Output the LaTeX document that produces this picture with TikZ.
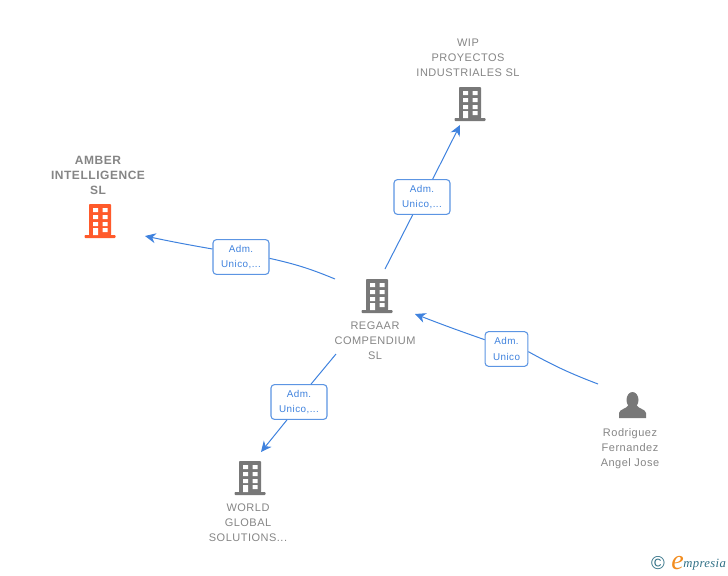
\documentclass[tikz,border=0pt]{standalone}
\usepackage{fontspec}
\setmainfont{Liberation Sans}
\newfontfamily\spacedfont[LetterSpace=4.5]{Liberation Sans}
\newfontfamily\logofont[LetterSpace=3]{Liberation Serif}
\usepackage{xcolor}
\usepackage{tikz}
\usetikzlibrary{arrows.meta}
\definecolor{linkblue}{HTML}{3F82DE}
\definecolor{labelgray}{HTML}{858585}
\definecolor{icongray}{HTML}{787878}
\definecolor{iconorange}{HTML}{FF5A2B}
\definecolor{logoteal}{HTML}{2F6F85}
\definecolor{logoorange}{HTML}{F28C1E}
\tikzset{
  x=.75pt,y=-.75pt,
  namelabel/.style={text=labelgray,font=\spacedfont\fontsize{8.25}{11.25}\selectfont,align=center,inner sep=0pt},
  boldlabel/.style={namelabel,font=\spacedfont\fontsize{9}{11.25}\selectfont\bfseries},
  rolebox/.style={draw=linkblue!85,line width=.8pt,fill=white,rounded corners=2.5pt,text=linkblue,
    font=\spacedfont\fontsize{7.4}{11.6}\selectfont,align=center,inner sep=0pt,minimum height=26pt},
  link/.style={draw=linkblue,line width=.75pt},
  linkarrow/.style={link,-{Stealth[length=8pt,width=7.5pt,inset=2.5pt]}},
  buildingicon/.pic={
    \fill[pic actions,rounded corners=.6pt] (-11,-16) rectangle (11,15.5);
    \fill[pic actions,rounded corners=.6pt] (-15.5,15) rectangle (15.5,18);
    \fill[white] (-7,-12) rectangle (-2,-8) (2.5,-12) rectangle (7.5,-8);
    \fill[white] (-7,-5) rectangle (-2,-1) (2.5,-5) rectangle (7.5,-1);
    \fill[white] (-7,2) rectangle (-2,6) (2.5,2) rectangle (7.5,6);
    \fill[white] (-7,8) rectangle (-2,15) (2.5,8) rectangle (7.5,12);
  },
  personicon/.pic={
    \fill[pic actions] (0,-5) ellipse[x radius=6,y radius=8];
    \fill[pic actions] (-13.5,13) -- (-13.5,8) .. controls (-13,4) and (-6,4) .. (-4,0)
      -- (4,0) .. controls (6,4) and (13,4) .. (13.5,8) -- (13.5,13) -- cycle;
  },
}
\begin{document}
\begin{tikzpicture}
\useasboundingbox (0,0) rectangle (728,575);
% icons
\pic[fill=iconorange] at (100,220) {buildingicon};
\pic[fill=icongray] at (470,103) {buildingicon};
\pic[fill=icongray] at (377,295) {buildingicon};
\pic[fill=icongray] at (250,477) {buildingicon};
\pic[fill=icongray] at (632.5,405) {personicon};
% names
\node[boldlabel] (amber) at (98,175) {AMBER\\INTELLIGENCE\\SL};
\node[namelabel] (wip) at (468,58) {WIP\\PROYECTOS\\INDUSTRIALES SL};
\node[namelabel] (regaar) at (375,340.5) {REGAAR\\COMPENDIUM\\SL};
\node[namelabel] (world) at (248,522.5) {WORLD\\GLOBAL\\SOLUTIONS...};
\node[namelabel] (rodriguez) at (630,448.5) {Rodriguez\\Fernandez\\Angel Jose};
% link ends
\coordinate (amberend) at (145,236);
\coordinate (amberstart) at (335,279);
\coordinate (wipend) at (460,125);
\coordinate (wipstart) at (385,269);
\coordinate (worldend) at (261,452);
\coordinate (worldstart) at (336,354);
\coordinate (regaarend) at (415,314);
\coordinate (rodriguezstart) at (598,384);
% role boxes
\node[rolebox,minimum width=42pt] (amberrole) at (241,257) {Adm.\\Unico,...};
\node[rolebox,minimum width=42pt] (wiprole) at (422,197) {Adm.\\Unico,...};
\node[rolebox,minimum width=42pt] (worldrole) at (299,402) {Adm.\\Unico,...};
\node[rolebox,minimum width=32pt] (regaarrole) at (506.5,349) {Adm.\\Unico};
% links
\draw[link] (amberstart) to[bend right=5] ([yshift=-1pt]amberrole.east);
\draw[linkarrow] ([yshift=6pt]amberrole.west) to[bend left=1] (amberend);
\draw[link] (wipstart) -- ([xshift=-7pt]wiprole.south);
\draw[linkarrow] ([xshift=8pt]wiprole.north) -- (wipend);
\draw[link] (worldstart) -- ([xshift=9pt]worldrole.north);
\draw[linkarrow] ([xshift=-9pt]worldrole.south) -- (worldend);
\draw[link] (rodriguezstart) to[bend left=4] ([yshift=-2pt]regaarrole.east);
\draw[linkarrow] ([yshift=7pt]regaarrole.west) to[bend left=1] (regaarend);
% logo
\node[text=logoteal,inner sep=0pt,font=\fontsize{14}{14}\selectfont] (copyright) at (658,563) {\textcopyright};
\node[text=logoorange,inner sep=0pt,font=\logofont\fontsize{21}{21}\selectfont\itshape] (logoe) at (677.5,563) {e};
\node[text=logoteal,inner sep=0pt,anchor=west,font=\logofont\fontsize{9.5}{10}\selectfont\itshape] (logotext) at (683,565) {mpresia};
\end{tikzpicture}
\end{document}
